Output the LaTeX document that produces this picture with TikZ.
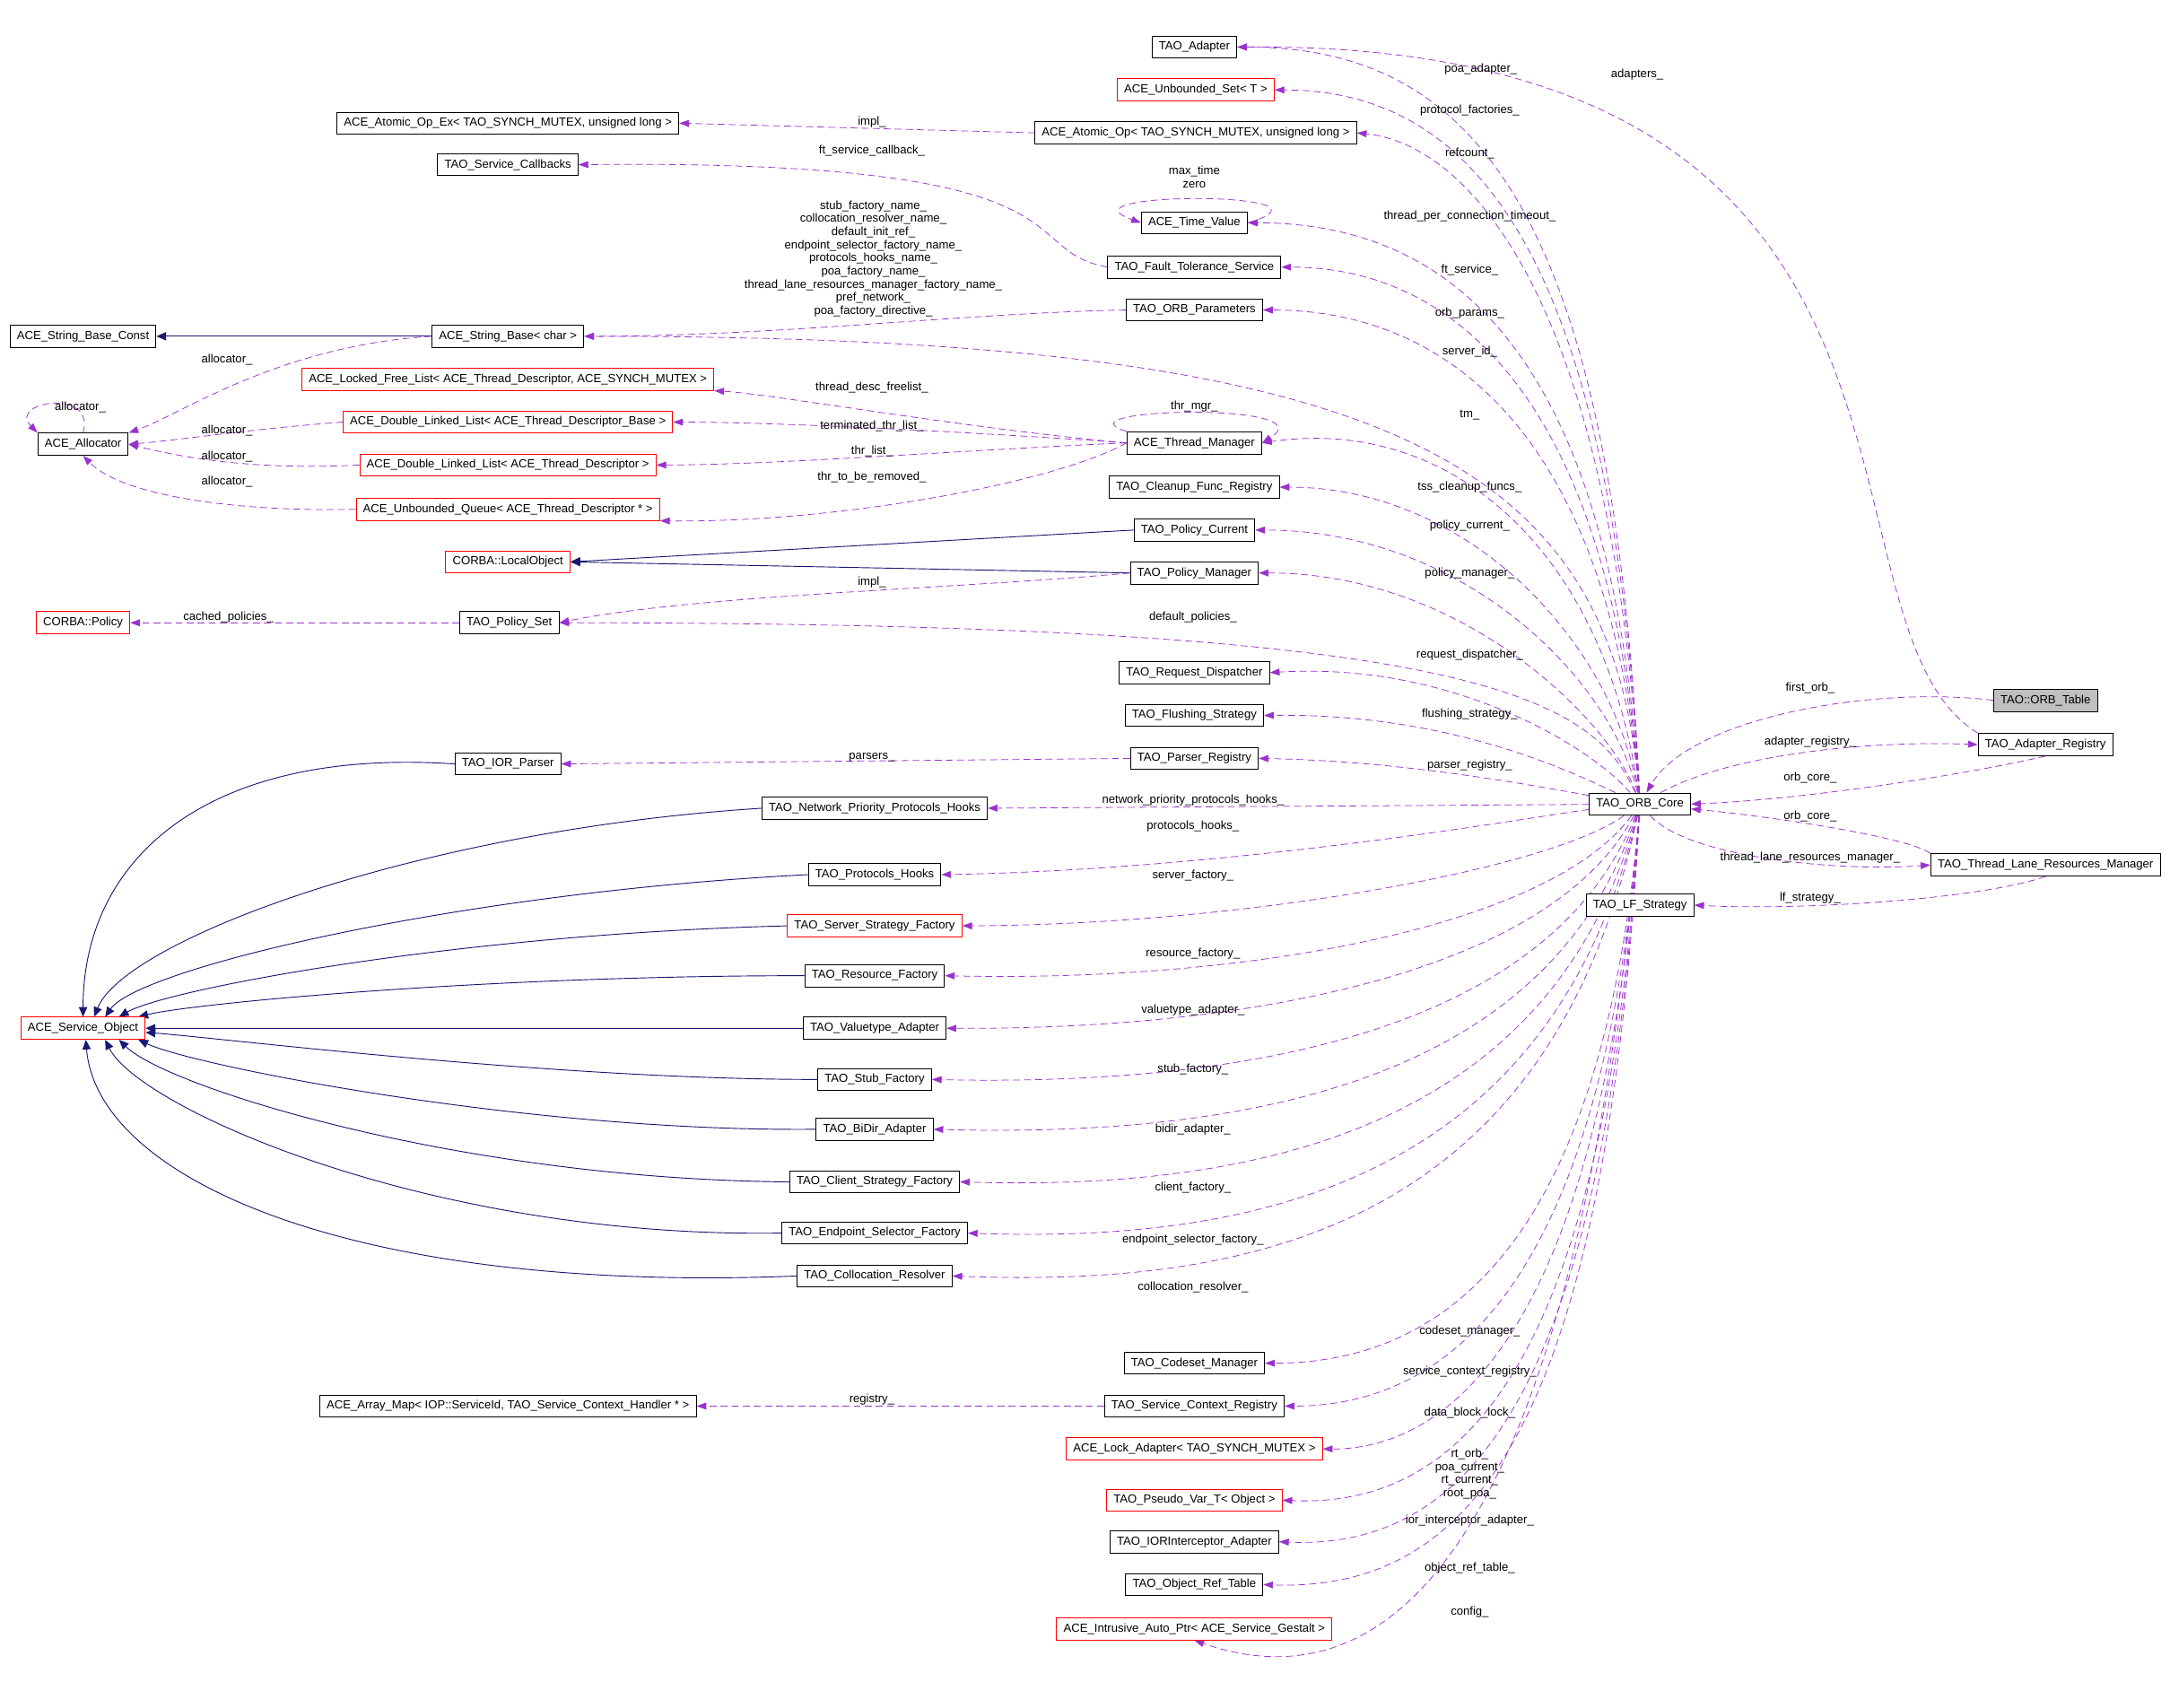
\documentclass[tikz,border=0pt]{standalone}
\usepackage{fontspec}
\setmainfont{Liberation Sans}
\usetikzlibrary{arrows.meta,backgrounds}
\definecolor{dp}{HTML}{9A32CD}
\definecolor{nv}{HTML}{191970}
\tikzset{
 cls/.style={draw=black,line width=0.6pt,fill=white,inner xsep=5pt,inner ysep=0pt,minimum height=16,font=\fontsize{8.5}{9}\selectfont},
 rcls/.style={cls,draw=red},
 gcls/.style={cls,fill=black!25},
 dep/.style={draw=dp,dashed,dash pattern=on 5pt off 3pt,line width=0.5pt,-{Triangle[length=7pt,width=5pt,fill=dp]}},
 inh/.style={draw=nv,line width=0.6pt,-{Triangle[length=7pt,width=6pt,fill=nv]}},
 lbl/.style={font=\fontsize{8.5}{9.5}\selectfont,inner sep=0pt,align=center}
}
\newcommand\cls[4][cls]{\node[#1] (#2) at (#3) {#4};}
\newcommand\uedge[2]{\draw[dep] (core) .. controls (1165,{#2+110}) and (1060,#2) .. (#1.east);}
\newcommand\dedge[2]{\draw[dep] (core) .. controls (1160,{#2-110}) and (1060,#2) .. (#1.east);}
\newcommand\ledge[2]{\draw[dep] (core) .. controls (1120,{#2-40}) and (900,#2) .. (#1.east);}
\begin{document}
\begin{tikzpicture}[x=1pt,y=-1pt]
\useasboundingbox (0,0) rectangle (1568,1234);
% nodes
\cls{adapter}{863,34}{TAO\_Adapter}
\cls[rcls]{uset}{864,65}{ACE\_Unbounded\_Set< T >}
\cls{aopex}{367,89}{ACE\_Atomic\_Op\_Ex< TAO\_SYNCH\_MUTEX, unsigned long >}
\cls{aop}{864,96}{ACE\_Atomic\_Op< TAO\_SYNCH\_MUTEX, unsigned long >}
\cls{scb}{367,119}{TAO\_Service\_Callbacks}
\cls{tv}{863,161}{ACE\_Time\_Value}
\cls{ft}{863,193}{TAO\_Fault\_Tolerance\_Service}
\cls{op}{863,224}{TAO\_ORB\_Parameters}
\cls{sbc}{60,243}{ACE\_String\_Base\_Const}
\cls{sb}{367,243}{ACE\_String\_Base< char >}
\cls[rcls]{lfl}{367,274}{ACE\_Locked\_Free\_List< ACE\_Thread\_Descriptor, ACE\_SYNCH\_MUTEX >}
\cls{alloc}{60,321}{ACE\_Allocator}
\cls[rcls]{dllb}{367,305}{ACE\_Double\_Linked\_List< ACE\_Thread\_Descriptor\_Base >}
\cls{tm}{863,320}{ACE\_Thread\_Manager}
\cls[rcls]{dlld}{367,336}{ACE\_Double\_Linked\_List< ACE\_Thread\_Descriptor >}
\cls{cfr}{863,352}{TAO\_Cleanup\_Func\_Registry}
\cls[rcls]{uq}{367,368}{ACE\_Unbounded\_Queue< ACE\_Thread\_Descriptor * >}
\cls{pc}{863,383}{TAO\_Policy\_Current}
\cls[rcls]{lo}{367,406}{CORBA::LocalObject}
\cls{pm}{863,414}{TAO\_Policy\_Manager}
\cls[rcls]{pol}{60,450}{CORBA::Policy}
\cls{ps}{368,450}{TAO\_Policy\_Set}
\cls{rd}{863,486}{TAO\_Request\_Dispatcher}
\cls[gcls]{ot}{1478,506}{TAO::ORB\_Table}
\cls{fs}{863,517}{TAO\_Flushing\_Strategy}
\cls{ar}{1478,538}{TAO\_Adapter\_Registry}
\cls{iorp}{367,552}{TAO\_IOR\_Parser}
\cls{pr}{863,548}{TAO\_Parser\_Registry}
\cls{core}{1185,581}{TAO\_ORB\_Core}
\cls{npph}{632,584}{TAO\_Network\_Priority\_Protocols\_Hooks}
\cls{tlrm}{1478,625}{TAO\_Thread\_Lane\_Resources\_Manager}
\cls{ph}{632,632}{TAO\_Protocols\_Hooks}
\cls{lf}{1185,654}{TAO\_LF\_Strategy}
\cls[rcls]{ssf}{632,669}{TAO\_Server\_Strategy\_Factory}
\cls{rf}{632,705}{TAO\_Resource\_Factory}
\cls[rcls]{svc}{60,743}{ACE\_Service\_Object}
\cls{va}{632,743}{TAO\_Valuetype\_Adapter}
\cls{stf}{632,780}{TAO\_Stub\_Factory}
\cls{bd}{632,816}{TAO\_BiDir\_Adapter}
\cls{csf}{632,854}{TAO\_Client\_Strategy\_Factory}
\cls{esf}{632,891}{TAO\_Endpoint\_Selector\_Factory}
\cls{cr}{632,922}{TAO\_Collocation\_Resolver}
\cls{cm}{863,985}{TAO\_Codeset\_Manager}
\cls{am}{367,1016}{ACE\_Array\_Map< IOP::ServiceId, TAO\_Service\_Context\_Handler * >}
\cls{scr}{863,1016}{TAO\_Service\_Context\_Registry}
\cls[rcls]{la}{863,1047}{ACE\_Lock\_Adapter< TAO\_SYNCH\_MUTEX >}
\cls[rcls]{pv}{863,1084}{TAO\_Pseudo\_Var\_T< Object >}
\cls{iia}{863,1114}{TAO\_IORInterceptor\_Adapter}
\cls{ort}{863,1145}{TAO\_Object\_Ref\_Table}
\cls[rcls]{iap}{863,1177}{ACE\_Intrusive\_Auto\_Ptr< ACE\_Service\_Gestalt >}
\begin{scope}[on background layer]
% inheritance
\draw[inh] (sb) -- (sbc);
\draw[inh] (pc.west) -- (lo.east);
\draw[inh] (pm.west) -- (lo.east);
\draw[inh] (iorp.west) .. controls (150,540) and (60,620) .. (svc.north);
\draw[inh] (npph.west) .. controls (300,600) and (90,680) .. ([xshift=8pt]svc.north);
\draw[inh] (ph.west) .. controls (330,645) and (100,700) .. ([xshift=16pt]svc.north);
\draw[inh] (ssf.west) .. controls (330,675) and (120,715) .. ([xshift=26pt]svc.north);
\draw[inh] (rf.west) .. controls (350,705) and (140,725) .. ([xshift=40pt]svc.north);
\draw[inh] (va.west) -- (svc.east);
\draw[inh] (stf.west) .. controls (400,780) and (160,750) .. ([yshift=-3pt]svc.east);
\draw[inh] (bd.west) .. controls (380,818) and (140,770) .. ([xshift=40pt]svc.south);
\draw[inh] (csf.west) .. controls (330,852) and (120,785) .. ([xshift=26pt]svc.south);
\draw[inh] (esf.west) .. controls (310,895) and (100,800) .. ([xshift=16pt]svc.south);
\draw[inh] (cr.west) .. controls (250,935) and (70,850) .. ([xshift=2pt]svc.south);
% core members
\uedge{adapter}{34}
\uedge{uset}{65}
\uedge{aop}{104}
\uedge{tv}{161}
\uedge{ft}{193}
\uedge{op}{224}
\draw[dep] (core) .. controls (1165,330) and (1000,243) .. (sb.east);
\draw[dep] (core) .. controls (1160,400) and (1050,300) .. (tm.east);
\uedge{cfr}{352}
\uedge{pc}{383}
\uedge{pm}{414}
\draw[dep] (core) .. controls (1150,500) and (1050,450) .. (ps.east);
\draw[dep] (core) .. controls (1150,540) and (1050,478) .. (rd.east);
\draw[dep] (core) .. controls (1140,560) and (1050,515) .. (fs.east);
\draw[dep] (core) .. controls (1120,570) and (1020,550) .. (pr.east);
\draw[dep] (core) -- (npph.east);
\ledge{ph}{628}
\ledge{ssf}{668}
\ledge{rf}{710}
\ledge{va}{744}
\ledge{stf}{785}
\ledge{bd}{822}
\ledge{csf}{860}
\ledge{esf}{898}
\ledge{cr}{930}
\dedge{cm}{985}
\dedge{scr}{1016}
\dedge{la}{1047}
\dedge{pv}{1090}
\dedge{iia}{1120}
\dedge{ort}{1150}
\draw[dep] (core) .. controls (1150,1000) and (1050,1250) .. (iap.south);
% right side
\draw[dep] (ot.west) .. controls (1350,495) and (1220,520) .. (core);
\draw[dep] (core) .. controls (1250,545) and (1350,535) .. (ar.west);
\draw[dep] (ar.south) .. controls (1420,560) and (1300,578) .. (core.east);
\draw[dep] (tlrm.north west) .. controls (1380,605) and (1280,590) .. (core);
\draw[dep] (core) .. controls (1220,620) and (1330,630) .. (tlrm.west);
\draw[dep] (tlrm.south) .. controls (1430,650) and (1300,658) .. (lf.east);
\draw[dep] (ar.north west) .. controls (1300,450) and (1440,30) .. (adapter.east);
% others
\draw[dep] (aop.west) -- (aopex.east);
\draw[dep] (ft.west) .. controls (730,180) and (800,115) .. (scb.east);
\draw[dep] (tv.east) .. controls (980,138) and (760,138) .. (tv.west);
\draw[dep] (op.west) .. controls (700,226) and (560,243) .. (sb.east);
\draw[dep] (sb.west) .. controls (200,250) and (130,300) .. (alloc.north east);
\draw[dep] (alloc.north) .. controls (70,280) and (5,290) .. (alloc.north west);
\draw[dep] (dllb.west) .. controls (180,310) and (130,318) .. (alloc.east);
\draw[dep] (dlld.west) .. controls (180,340) and (130,330) .. (alloc.east);
\draw[dep] (uq.west) .. controls (180,370) and (90,360) .. (alloc.south);
\draw[dep] (tm.west) .. controls (700,310) and (560,285) .. (lfl.south east);
\draw[dep] (tm.west) .. controls (700,312) and (560,305) .. (dllb.east);
\draw[dep] (tm.west) .. controls (700,325) and (560,336) .. (dlld.east);
\draw[dep] (tm.west) .. controls (760,350) and (600,378) .. (uq.south east);
\draw[dep] (tm.north west) .. controls (760,295) and (960,290) .. (tm.east);
\draw[dep] (pm.west) .. controls (700,425) and (500,430) .. (ps.east);
\draw[dep] (ps.west) -- (pol.east);
\draw[dep] (pr.west) -- (iorp.east);
\draw[dep] (scr.west) -- (am.east);
\end{scope}
% labels
\node[lbl] (l1) at (1070,50) {poa\_adapter\_};
\node[lbl] (l2) at (1062,80) {protocol\_factories\_};
\node[lbl] (l3) at (1062,111) {refcount\_};
\node[lbl] (l4) at (863,128) {max\_time\\zero};
\node[lbl] (l5) at (1062,156) {thread\_per\_connection\_timeout\_};
\node[lbl] (l6) at (1062,195) {ft\_service\_};
\node[lbl] (l7) at (1062,226) {orb\_params\_};
\node[lbl] (l8) at (1062,254) {server\_id\_};
\node[lbl] (l9) at (1062,300) {tm\_};
\node[lbl] (l10) at (1062,352) {tss\_cleanup\_funcs\_};
\node[lbl] (l11) at (1062,380) {policy\_current\_};
\node[lbl] (l12) at (1062,414) {policy\_manager\_};
\node[lbl] (l13) at (862,446) {default\_policies\_};
\node[lbl] (l14) at (1062,473) {request\_dispatcher\_};
\node[lbl] (l15) at (1062,516) {flushing\_strategy\_};
\node[lbl] (l16) at (1062,553) {parser\_registry\_};
\node[lbl] (l17) at (862,578) {network\_priority\_protocols\_hooks\_};
\node[lbl] (l18) at (862,597) {protocols\_hooks\_};
\node[lbl] (l19) at (862,633) {server\_factory\_};
\node[lbl] (l20) at (862,689) {resource\_factory\_};
\node[lbl] (l21) at (862,730) {valuetype\_adapter\_};
\node[lbl] (l22) at (862,773) {stub\_factory\_};
\node[lbl] (l23) at (862,816) {bidir\_adapter\_};
\node[lbl] (l24) at (862,858) {client\_factory\_};
\node[lbl] (l25) at (862,896) {endpoint\_selector\_factory\_};
\node[lbl] (l26) at (862,930) {collocation\_resolver\_};
\node[lbl] (l27) at (1062,962) {codeset\_manager\_};
\node[lbl] (l28) at (1062,991) {service\_context\_registry\_};
\node[lbl] (l29) at (1062,1021) {data\_block\_lock\_};
\node[lbl] (l30) at (1062,1065) {rt\_orb\_\\poa\_current\_\\rt\_current\_\\root\_poa\_};
\node[lbl] (l31) at (1062,1099) {ior\_interceptor\_adapter\_};
\node[lbl] (l32) at (1062,1133) {object\_ref\_table\_};
\node[lbl] (l33) at (1062,1165) {config\_};
\node[lbl] (l34) at (1308,497) {first\_orb\_};
\node[lbl] (l35) at (1308,536) {adapter\_registry\_};
\node[lbl] (l36) at (1308,562) {orb\_core\_};
\node[lbl] (l37) at (1308,590) {orb\_core\_};
\node[lbl] (l38) at (1308,620) {thread\_lane\_resources\_manager\_};
\node[lbl] (l39) at (1308,649) {lf\_strategy\_};
\node[lbl] (l40) at (1183,54) {adapters\_};
\node[lbl] (l41) at (630,88) {impl\_};
\node[lbl] (l42) at (630,109) {ft\_service\_callback\_};
\node[lbl] (l43) at (631,187) {stub\_factory\_name\_\\collocation\_resolver\_name\_\\default\_init\_ref\_\\endpoint\_selector\_factory\_name\_\\protocols\_hooks\_name\_\\poa\_factory\_name\_\\thread\_lane\_resources\_manager\_factory\_name\_\\pref\_network\_\\poa\_factory\_directive\_};
\node[lbl] (l44) at (164,260) {allocator\_};
\node[lbl] (l45) at (58,294) {allocator\_};
\node[lbl] (l46) at (164,311) {allocator\_};
\node[lbl] (l47) at (164,330) {allocator\_};
\node[lbl] (l48) at (164,348) {allocator\_};
\node[lbl] (l49) at (630,280) {thread\_desc\_freelist\_};
\node[lbl] (l50) at (630,308) {terminated\_thr\_list\_};
\node[lbl] (l51) at (630,326) {thr\_list\_};
\node[lbl] (l52) at (630,345) {thr\_to\_be\_removed\_};
\node[lbl] (l53) at (863,294) {thr\_mgr\_};
\node[lbl] (l54) at (630,421) {impl\_};
\node[lbl] (l55) at (165,446) {cached\_policies\_};
\node[lbl] (l56) at (630,547) {parsers\_};
\node[lbl] (l57) at (630,1011) {registry\_};
\end{tikzpicture}
\end{document}
